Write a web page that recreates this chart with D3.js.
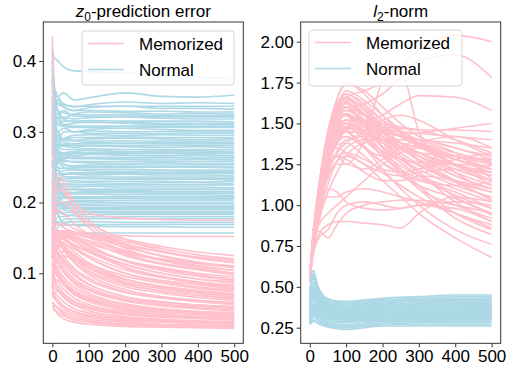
<!DOCTYPE html>
<html><head><meta charset="utf-8">
<script src="https://cdn.jsdelivr.net/npm/d3@7"></script>
<style>
body{margin:0;background:#fff;}
svg{display:block;font-family:"Liberation Sans",Arial,sans-serif;}
</style></head><body>
<svg id="c" width="511" height="370"></svg>
<script>
// ---- data ----
const xTicks = [0,100,200,300,400,500];
const leftYTicks = [0.1,0.2,0.3,0.4];
const rightYTicks = [0.25,0.5,0.75,1.0,1.25,1.5,1.75,2.0];
const legendLabels = ["Memorized","Normal"];

// z0-prediction error: sampled steps
const errX = [0,5,15,30,60,100,200,300,400,500];
const errNormal = [
[0.415,0.405,0.40,0.392,0.386,0.385,0.383,0.380,0.377,0.375],
[0.36,0.35,0.35,0.355,0.345,0.348,0.355,0.350,0.349,0.352],
[0.33,0.36,0.35,0.34,0.335,0.338,0.342,0.340,0.341,0.340],
[0.30,0.34,0.345,0.335,0.33,0.334,0.336,0.333,0.333,0.332],
[0.27,0.33,0.33,0.32,0.325,0.328,0.327,0.325,0.326,0.325],
[0.39,0.34,0.32,0.32,0.318,0.320,0.321,0.319,0.318,0.318],
[0.22,0.30,0.32,0.31,0.312,0.314,0.312,0.310,0.311,0.310],
[0.35,0.31,0.30,0.305,0.30,0.303,0.305,0.303,0.302,0.302],
[0.18,0.26,0.28,0.29,0.295,0.296,0.295,0.296,0.295,0.295],
[0.31,0.30,0.29,0.29,0.288,0.29,0.291,0.29,0.289,0.29],
[0.25,0.28,0.295,0.285,0.283,0.285,0.284,0.285,0.285,0.284],
[0.40,0.32,0.29,0.28,0.278,0.28,0.279,0.278,0.279,0.278],
[0.14,0.22,0.26,0.27,0.272,0.274,0.272,0.273,0.273,0.272],
[0.28,0.27,0.275,0.268,0.266,0.268,0.267,0.266,0.267,0.266],
[0.33,0.29,0.27,0.265,0.262,0.262,0.261,0.26,0.261,0.26],
[0.20,0.25,0.255,0.26,0.257,0.256,0.255,0.256,0.255,0.255],
[0.37,0.30,0.27,0.255,0.25,0.252,0.25,0.25,0.25,0.249],
[0.16,0.22,0.24,0.245,0.246,0.245,0.244,0.245,0.244,0.244],
[0.26,0.25,0.245,0.24,0.24,0.239,0.24,0.239,0.239,0.238],
[0.32,0.27,0.25,0.238,0.235,0.234,0.233,0.233,0.233,0.232],
[0.13,0.19,0.21,0.225,0.228,0.228,0.227,0.228,0.228,0.227],
[0.24,0.23,0.225,0.223,0.222,0.223,0.222,0.222,0.222,0.221],
[0.29,0.25,0.23,0.22,0.218,0.217,0.217,0.216,0.216,0.216],
[0.19,0.21,0.215,0.213,0.212,0.212,0.211,0.211,0.211,0.21],
[0.35,0.27,0.23,0.21,0.207,0.206,0.206,0.205,0.205,0.205],
[0.15,0.18,0.195,0.2,0.201,0.201,0.2,0.2,0.2,0.2],
[0.23,0.21,0.2,0.197,0.196,0.196,0.195,0.195,0.195,0.195],
[0.30,0.24,0.21,0.195,0.191,0.19,0.19,0.19,0.19,0.19],
[0.17,0.18,0.185,0.186,0.186,0.186,0.185,0.185,0.185,0.185],
[0.21,0.2,0.19,0.183,0.181,0.18,0.18,0.18,0.18,0.18],
[0.12,0.15,0.165,0.172,0.173,0.173,0.172,0.172,0.172,0.172],
[0.26,0.21,0.185,0.172,0.168,0.167,0.166,0.166,0.165,0.165],
[0.145,0.15,0.152,0.155,0.157,0.157,0.157,0.157,0.157,0.157],
[0.38,0.30,0.28,0.30,0.30,0.298,0.298,0.297,0.298,0.298],
[0.34,0.33,0.315,0.31,0.306,0.306,0.307,0.306,0.306,0.306],
[0.25,0.27,0.27,0.262,0.27,0.27,0.27,0.27,0.269,0.27],
[0.31,0.28,0.26,0.25,0.247,0.247,0.247,0.246,0.246,0.246],
[0.21,0.23,0.235,0.23,0.231,0.23,0.23,0.23,0.229,0.23],
[0.28,0.24,0.22,0.215,0.214,0.214,0.214,0.213,0.213,0.213],
[0.33,0.25,0.21,0.19,0.188,0.187,0.187,0.187,0.187,0.187],
[0.19,0.175,0.172,0.176,0.177,0.177,0.177,0.177,0.177,0.177],
[0.36,0.33,0.325,0.33,0.322,0.322,0.322,0.321,0.321,0.321],
[0.29,0.31,0.31,0.315,0.315,0.316,0.315,0.315,0.315,0.314],
[0.24,0.26,0.28,0.28,0.281,0.281,0.28,0.281,0.281,0.281],
[0.38,0.32,0.30,0.29,0.292,0.292,0.293,0.292,0.292,0.292],
[0.16,0.20,0.225,0.236,0.236,0.236,0.236,0.236,0.236,0.236],
[0.27,0.24,0.225,0.20,0.203,0.203,0.203,0.203,0.203,0.203],
[0.22,0.20,0.195,0.193,0.193,0.193,0.193,0.193,0.193,0.193],
[0.31,0.28,0.26,0.258,0.258,0.258,0.258,0.258,0.258,0.258],
[0.20,0.24,0.26,0.263,0.263,0.263,0.263,0.263,0.263,0.263],
[0.40,0.36,0.34,0.335,0.33,0.33,0.329,0.329,0.328,0.328],
[0.13,0.17,0.20,0.208,0.208,0.208,0.208,0.208,0.208,0.208],
[0.42,0.37,0.33,0.31,0.30,0.301,0.300,0.300,0.300,0.300],
[0.12,0.16,0.18,0.18,0.183,0.183,0.183,0.183,0.183,0.183],
[0.26,0.22,0.20,0.198,0.198,0.198,0.198,0.198,0.198,0.198],
[0.37,0.33,0.31,0.308,0.308,0.308,0.308,0.308,0.308,0.308],
[0.15,0.20,0.22,0.218,0.219,0.219,0.219,0.219,0.219,0.219],
[0.34,0.30,0.28,0.275,0.275,0.276,0.275,0.275,0.275,0.275],
[0.19,0.22,0.24,0.241,0.241,0.241,0.241,0.241,0.241,0.241],
[0.32,0.29,0.27,0.253,0.252,0.253,0.253,0.253,0.253,0.253],
[0.23,0.25,0.27,0.268,0.269,0.269,0.269,0.269,0.269,0.269],
[0.36,0.34,0.33,0.318,0.314,0.313,0.313,0.312,0.312,0.312],
[0.28,0.30,0.30,0.288,0.287,0.287,0.287,0.287,0.287,0.287],
[0.14,0.18,0.19,0.192,0.192,0.192,0.192,0.192,0.192,0.192],
[0.33,0.26,0.23,0.226,0.225,0.225,0.225,0.225,0.225,0.225],
[0.21,0.23,0.23,0.233,0.234,0.234,0.234,0.234,0.234,0.234],
[0.39,0.35,0.34,0.338,0.336,0.336,0.336,0.336,0.336,0.336],
[0.25,0.26,0.26,0.262,0.264,0.264,0.264,0.264,0.264,0.264],
[0.17,0.19,0.20,0.211,0.214,0.215,0.215,0.215,0.215,0.215],
[0.30,0.27,0.25,0.248,0.249,0.25,0.25,0.25,0.25,0.25],
[0.35,0.30,0.285,0.282,0.283,0.283,0.283,0.283,0.283,0.283],
[0.20,0.18,0.17,0.168,0.169,0.169,0.169,0.169,0.169,0.169],
[0.41,0.36,0.33,0.327,0.324,0.324,0.324,0.323,0.323,0.323],
[0.27,0.23,0.21,0.206,0.206,0.206,0.206,0.206,0.206,0.206],
[0.16,0.20,0.23,0.24,0.242,0.242,0.242,0.242,0.242,0.242],
[0.29,0.28,0.27,0.27,0.27,0.271,0.271,0.271,0.271,0.271]
];
const errMemorized = [
[0.435,0.12,0.10,0.09,0.075,0.065,0.05,0.045,0.042,0.04],
[0.05,0.048,0.042,0.036,0.031,0.028,0.025,0.024,0.023,0.022],
[0.06,0.055,0.05,0.043,0.037,0.033,0.029,0.027,0.026,0.025],
[0.07,0.065,0.058,0.05,0.043,0.038,0.033,0.031,0.029,0.028],
[0.08,0.075,0.068,0.06,0.05,0.044,0.037,0.034,0.032,0.031],
[0.09,0.085,0.078,0.068,0.057,0.05,0.042,0.038,0.036,0.034],
[0.10,0.095,0.088,0.078,0.065,0.056,0.046,0.042,0.039,0.037],
[0.11,0.105,0.097,0.086,0.072,0.062,0.05,0.045,0.042,0.04],
[0.12,0.115,0.107,0.095,0.08,0.069,0.055,0.049,0.046,0.043],
[0.13,0.125,0.117,0.104,0.088,0.076,0.061,0.054,0.05,0.047],
[0.14,0.135,0.127,0.114,0.097,0.084,0.067,0.06,0.055,0.052],
[0.15,0.145,0.138,0.125,0.107,0.093,0.074,0.066,0.061,0.057],
[0.155,0.15,0.145,0.133,0.116,0.101,0.081,0.072,0.066,0.062],
[0.16,0.155,0.15,0.14,0.124,0.109,0.088,0.078,0.072,0.067],
[0.10,0.12,0.13,0.13,0.122,0.113,0.096,0.086,0.079,0.074],
[0.08,0.11,0.135,0.14,0.135,0.125,0.105,0.094,0.086,0.08],
[0.13,0.15,0.155,0.15,0.14,0.13,0.112,0.10,0.092,0.086],
[0.12,0.14,0.15,0.152,0.148,0.138,0.118,0.106,0.098,0.092],
[0.09,0.13,0.15,0.155,0.152,0.145,0.125,0.113,0.105,0.098],
[0.15,0.155,0.157,0.157,0.155,0.15,0.132,0.12,0.111,0.104],
[0.14,0.15,0.155,0.158,0.157,0.152,0.137,0.125,0.116,0.11],
[0.11,0.14,0.155,0.16,0.158,0.155,0.142,0.13,0.121,0.115],
[0.12,0.15,0.16,0.16,0.158,0.155,0.145,0.135,0.126,0.12],
[0.15,0.155,0.16,0.16,0.158,0.156,0.148,0.138,0.13,0.125],
[0.16,0.20,0.24,0.23,0.20,0.175,0.148,0.132,0.122,0.115],
[0.15,0.19,0.22,0.215,0.19,0.17,0.14,0.124,0.114,0.108],
[0.14,0.18,0.20,0.20,0.185,0.165,0.135,0.118,0.108,0.10],
[0.17,0.21,0.23,0.22,0.20,0.185,0.178,0.176,0.175,0.175],
[0.16,0.17,0.17,0.165,0.158,0.155,0.153,0.152,0.152,0.152],
[0.065,0.07,0.075,0.07,0.06,0.052,0.043,0.039,0.037,0.035],
[0.085,0.09,0.09,0.085,0.073,0.063,0.051,0.046,0.043,0.041],
[0.105,0.11,0.11,0.103,0.089,0.077,0.062,0.055,0.051,0.048],
[0.125,0.13,0.128,0.12,0.104,0.09,0.073,0.065,0.06,0.056],
[0.145,0.15,0.148,0.138,0.12,0.104,0.084,0.075,0.069,0.064],
[0.11,0.13,0.14,0.138,0.126,0.112,0.092,0.082,0.076,0.071],
[0.07,0.10,0.12,0.125,0.118,0.108,0.091,0.081,0.075,0.07],
[0.10,0.12,0.14,0.145,0.14,0.132,0.113,0.10,0.092,0.088],
[0.13,0.145,0.15,0.148,0.14,0.13,0.108,0.095,0.087,0.082],
[0.055,0.05,0.045,0.04,0.034,0.031,0.027,0.026,0.025,0.024],
[0.075,0.07,0.062,0.054,0.046,0.041,0.035,0.033,0.031,0.03],
[0.095,0.09,0.082,0.072,0.061,0.053,0.044,0.04,0.038,0.036],
[0.115,0.11,0.102,0.09,0.076,0.066,0.053,0.048,0.045,0.042],
[0.135,0.13,0.122,0.109,0.092,0.08,0.064,0.057,0.053,0.05],
[0.16,0.16,0.158,0.15,0.135,0.122,0.10,0.09,0.084,0.078],
[0.14,0.155,0.16,0.155,0.145,0.135,0.118,0.108,0.10,0.095],
[0.09,0.12,0.14,0.15,0.15,0.146,0.13,0.118,0.11,0.104],
[0.16,0.16,0.16,0.157,0.15,0.142,0.128,0.12,0.114,0.11],
[0.058,0.056,0.052,0.046,0.04,0.035,0.031,0.028,0.027,0.026],
[0.068,0.066,0.061,0.054,0.046,0.04,0.035,0.032,0.030,0.029],
[0.078,0.08,0.075,0.066,0.055,0.047,0.039,0.035,0.033,0.032],
[0.098,0.10,0.095,0.084,0.07,0.06,0.048,0.042,0.039,0.038],
[0.118,0.12,0.115,0.102,0.085,0.072,0.057,0.05,0.046,0.045],
[0.128,0.135,0.13,0.118,0.10,0.085,0.067,0.059,0.055,0.053],
[0.148,0.152,0.148,0.135,0.115,0.098,0.077,0.067,0.062,0.059],
[0.12,0.14,0.145,0.14,0.124,0.108,0.086,0.075,0.069,0.065],
[0.08,0.12,0.14,0.142,0.13,0.115,0.092,0.08,0.073,0.069],
[0.15,0.16,0.158,0.152,0.138,0.123,0.10,0.088,0.081,0.076],
[0.11,0.14,0.155,0.155,0.146,0.133,0.109,0.096,0.088,0.083],
[0.13,0.15,0.16,0.16,0.152,0.14,0.117,0.104,0.096,0.09],
[0.16,0.18,0.19,0.185,0.17,0.155,0.128,0.114,0.106,0.10],
[0.14,0.16,0.17,0.17,0.163,0.155,0.14,0.13,0.123,0.118]
];

// l2-norm
const normMemX = [0,10,25,50,75,100,150,200,250,300,400,500];
const normMemorized = [
[0.55,0.8,1.05,1.35,1.5,1.56,1.5,1.42,1.35,1.3,1.22,1.15],
[0.56,0.82,1.08,1.4,1.56,1.62,1.55,1.45,1.38,1.32,1.25,1.2],
[0.55,0.82,1.1,1.42,1.6,1.66,1.58,1.5,1.42,1.36,1.28,1.22],
[0.57,0.84,1.1,1.43,1.62,1.68,1.62,1.52,1.44,1.38,1.3,1.25],
[0.56,0.83,1.1,1.44,1.65,1.74,1.7,1.6,1.5,1.42,1.35,1.3],
[0.55,0.8,1.03,1.32,1.46,1.5,1.45,1.36,1.28,1.22,1.12,1.05],
[0.54,0.78,1.0,1.3,1.44,1.5,1.45,1.38,1.3,1.24,1.14,1.08],
[0.55,0.77,0.98,1.26,1.4,1.47,1.46,1.4,1.34,1.28,1.18,1.1],
[0.53,0.76,0.97,1.24,1.38,1.45,1.44,1.4,1.35,1.3,1.2,1.12],
[0.55,0.75,0.95,1.2,1.33,1.4,1.42,1.4,1.36,1.32,1.24,1.18],
[0.54,0.73,0.92,1.13,1.27,1.35,1.4,1.4,1.38,1.35,1.28,1.22],
[0.55,0.72,0.9,1.08,1.2,1.3,1.38,1.4,1.4,1.38,1.32,1.26],
[0.56,0.8,1.05,1.38,1.5,1.55,1.5,1.45,1.42,1.4,1.38,1.35],
[0.55,0.81,1.07,1.4,1.54,1.58,1.52,1.47,1.45,1.44,1.42,1.4],
[0.55,0.8,1.05,1.36,1.48,1.52,1.5,1.48,1.47,1.46,1.46,1.45],
[0.54,0.78,1.02,1.32,1.44,1.48,1.46,1.44,1.43,1.44,1.47,1.5],
[0.56,0.83,1.1,1.43,1.58,1.6,1.5,1.38,1.28,1.2,1.05,0.95],
[0.57,0.84,1.11,1.44,1.6,1.63,1.52,1.4,1.3,1.2,1.02,0.9],
[0.55,0.82,1.08,1.41,1.56,1.6,1.5,1.35,1.22,1.12,0.95,0.85],
[0.55,0.8,1.04,1.36,1.5,1.55,1.45,1.32,1.2,1.1,0.92,0.82],
[0.54,0.78,1.0,1.28,1.38,1.42,1.35,1.22,1.1,1.0,0.85,0.76],
[0.55,0.76,0.96,1.18,1.27,1.3,1.25,1.15,1.05,0.95,0.8,0.68],
[0.55,0.8,0.84,0.8,0.88,0.95,1.0,1.02,1.03,1.03,1.0,0.95],
[0.55,0.72,0.82,0.88,0.9,0.9,0.89,0.88,0.86,0.95,1.05,1.02],
[0.55,0.8,1.0,1.1,1.08,1.02,0.98,0.97,0.98,1.0,0.98,0.9],
[0.55,0.76,0.93,1.05,1.05,1.08,1.1,1.08,1.05,1.02,0.95,0.86],
[0.55,0.82,1.05,1.3,1.3,1.25,1.4,1.75,1.82,1.45,1.2,1.1],
[0.56,0.83,1.08,1.42,1.6,1.66,1.7,1.75,1.85,1.95,2.04,2.0],
[0.55,0.82,1.06,1.38,1.55,1.6,1.62,1.68,1.78,1.88,1.92,1.78],
[0.55,0.8,1.04,1.34,1.45,1.48,1.5,1.55,1.62,1.67,1.66,1.58],
[0.58,0.85,1.12,1.45,1.65,1.75,1.68,1.55,1.44,1.36,1.25,1.18],
[0.57,0.85,1.12,1.45,1.62,1.66,1.55,1.42,1.32,1.25,1.15,1.08],
[0.56,0.84,1.1,1.43,1.58,1.6,1.48,1.35,1.26,1.18,1.06,0.98],
[0.55,0.8,1.03,1.28,1.35,1.32,1.25,1.2,1.18,1.2,1.22,1.2],
[0.55,0.78,1.0,1.24,1.3,1.28,1.2,1.15,1.15,1.18,1.15,1.1],
[0.55,0.76,0.96,1.17,1.25,1.25,1.22,1.28,1.35,1.4,1.35,1.28],
[0.55,0.8,1.05,1.36,1.46,1.45,1.35,1.3,1.32,1.38,1.42,1.35],
[0.56,0.83,1.1,1.44,1.56,1.55,1.42,1.3,1.2,1.1,1.0,0.92],
[0.55,0.8,1.03,1.28,1.37,1.38,1.3,1.2,1.12,1.05,0.95,0.88],
[0.57,0.84,1.11,1.45,1.62,1.65,1.55,1.45,1.38,1.32,1.22,1.15],
[0.55,0.76,0.98,1.2,1.32,1.38,1.45,1.52,1.55,1.52,1.4,1.3],
[0.55,0.74,0.88,0.95,1.0,1.05,1.15,1.25,1.32,1.35,1.3,1.25],
[0.55,0.7,0.8,0.85,0.95,1.0,1.02,1.0,0.98,1.0,1.02,1.0],
[0.56,0.82,1.08,1.42,1.6,1.68,1.6,1.48,1.38,1.3,1.18,1.1],
[0.55,0.81,1.06,1.38,1.52,1.55,1.48,1.42,1.38,1.35,1.3,1.28],
[0.55,0.8,1.04,1.36,1.52,1.58,1.52,1.44,1.36,1.28,1.15,1.03],
[0.56,0.82,1.07,1.4,1.57,1.62,1.56,1.48,1.42,1.38,1.3,1.22],
[0.55,0.79,1.02,1.32,1.46,1.52,1.52,1.48,1.42,1.36,1.25,1.15],
[0.55,0.83,1.09,1.42,1.6,1.7,1.64,1.55,1.46,1.38,1.25,1.12],
[0.54,0.77,0.99,1.27,1.42,1.48,1.42,1.32,1.24,1.18,1.1,1.02],
[0.55,0.81,1.05,1.37,1.5,1.52,1.42,1.33,1.28,1.26,1.25,1.24],
[0.56,0.84,1.1,1.44,1.62,1.66,1.58,1.46,1.35,1.27,1.14,1.04],
[0.55,0.8,1.03,1.33,1.45,1.48,1.4,1.3,1.22,1.16,1.08,0.98],
[0.55,0.78,1.0,1.28,1.4,1.46,1.48,1.46,1.42,1.37,1.28,1.2],
[0.55,0.82,1.06,1.38,1.54,1.6,1.55,1.5,1.48,1.46,1.4,1.32],
[0.55,0.8,1.04,1.35,1.48,1.5,1.44,1.38,1.34,1.32,1.3,1.27],
[0.56,0.83,1.09,1.42,1.58,1.64,1.6,1.52,1.45,1.4,1.32,1.16],
[0.55,0.79,1.01,1.3,1.43,1.45,1.36,1.26,1.18,1.12,1.04,0.94],
[0.55,0.77,0.97,1.22,1.3,1.32,1.28,1.22,1.2,1.22,1.28,1.32],
[0.55,0.8,1.02,1.3,1.4,1.42,1.35,1.26,1.2,1.15,1.12,1.14]
];
const normNormX = [0,5,10,20,40,60,100,150,200,300,400,500];
const normNormal = [
[0.45,0.58,0.60,0.52,0.44,0.42,0.41,0.42,0.43,0.44,0.45,0.45],
[0.42,0.55,0.57,0.5,0.43,0.41,0.41,0.41,0.42,0.43,0.44,0.44],
[0.40,0.52,0.55,0.49,0.42,0.40,0.40,0.41,0.42,0.42,0.42,0.43],
[0.38,0.5,0.52,0.47,0.41,0.39,0.39,0.4,0.41,0.41,0.42,0.42],
[0.36,0.48,0.5,0.45,0.4,0.38,0.38,0.39,0.4,0.4,0.41,0.41],
[0.35,0.45,0.48,0.44,0.39,0.37,0.37,0.38,0.39,0.4,0.4,0.4],
[0.34,0.43,0.46,0.42,0.38,0.36,0.36,0.37,0.38,0.39,0.39,0.39],
[0.33,0.42,0.44,0.4,0.37,0.35,0.35,0.36,0.37,0.38,0.38,0.38],
[0.32,0.4,0.42,0.39,0.36,0.35,0.35,0.35,0.36,0.37,0.37,0.37],
[0.31,0.38,0.4,0.38,0.35,0.34,0.34,0.35,0.35,0.36,0.36,0.36],
[0.30,0.37,0.39,0.37,0.34,0.33,0.33,0.34,0.34,0.35,0.35,0.35],
[0.29,0.35,0.37,0.35,0.33,0.32,0.32,0.33,0.33,0.34,0.34,0.34],
[0.29,0.34,0.36,0.34,0.32,0.31,0.31,0.32,0.32,0.33,0.33,0.33],
[0.28,0.33,0.35,0.33,0.31,0.3,0.3,0.31,0.31,0.32,0.32,0.32],
[0.28,0.32,0.34,0.32,0.3,0.29,0.29,0.3,0.3,0.31,0.31,0.31],
[0.28,0.3,0.32,0.3,0.28,0.27,0.27,0.28,0.29,0.3,0.3,0.3],
[0.27,0.29,0.3,0.28,0.26,0.25,0.25,0.26,0.27,0.28,0.28,0.28],
[0.30,0.32,0.33,0.3,0.27,0.26,0.26,0.26,0.27,0.27,0.27,0.27],
[0.33,0.36,0.37,0.33,0.28,0.25,0.24,0.25,0.26,0.26,0.26,0.26],
[0.37,0.42,0.44,0.4,0.34,0.31,0.29,0.29,0.29,0.29,0.29,0.29],
[0.40,0.47,0.5,0.45,0.37,0.33,0.31,0.31,0.31,0.31,0.31,0.31],
[0.43,0.53,0.56,0.5,0.42,0.38,0.36,0.35,0.35,0.35,0.35,0.35],
[0.35,0.4,0.42,0.4,0.38,0.37,0.38,0.39,0.4,0.41,0.41,0.41],
[0.32,0.35,0.36,0.35,0.34,0.35,0.36,0.37,0.38,0.39,0.4,0.4],
[0.30,0.33,0.35,0.34,0.32,0.33,0.34,0.35,0.36,0.37,0.38,0.38],
[0.31,0.36,0.38,0.36,0.33,0.32,0.33,0.34,0.35,0.36,0.36,0.37],
[0.38,0.46,0.48,0.43,0.37,0.35,0.34,0.34,0.34,0.34,0.34,0.34],
[0.36,0.44,0.46,0.41,0.36,0.34,0.33,0.33,0.33,0.33,0.33,0.33],
[0.29,0.31,0.33,0.31,0.29,0.28,0.29,0.3,0.31,0.32,0.32,0.32],
[0.34,0.38,0.4,0.37,0.33,0.31,0.3,0.3,0.3,0.31,0.31,0.31],
[0.41,0.5,0.53,0.48,0.41,0.39,0.38,0.38,0.39,0.39,0.39,0.39],
[0.39,0.48,0.5,0.46,0.4,0.38,0.37,0.37,0.37,0.38,0.38,0.38],
[0.27,0.28,0.29,0.28,0.27,0.26,0.26,0.27,0.28,0.29,0.3,0.3],
[0.44,0.56,0.58,0.51,0.43,0.41,0.40,0.40,0.41,0.42,0.43,0.43],
[0.37,0.47,0.49,0.45,0.39,0.37,0.36,0.37,0.38,0.39,0.4,0.41],
[0.33,0.41,0.43,0.39,0.35,0.34,0.34,0.35,0.36,0.37,0.38,0.39],
[0.31,0.37,0.39,0.36,0.33,0.32,0.32,0.33,0.34,0.35,0.36,0.36],
[0.29,0.33,0.35,0.33,0.31,0.3,0.31,0.32,0.33,0.34,0.35,0.35],
[0.35,0.44,0.47,0.43,0.37,0.35,0.35,0.36,0.36,0.37,0.37,0.37],
[0.40,0.5,0.52,0.47,0.4,0.37,0.36,0.36,0.36,0.36,0.36,0.36],
[0.28,0.31,0.33,0.31,0.29,0.28,0.28,0.29,0.29,0.3,0.3,0.3],
[0.30,0.35,0.37,0.35,0.32,0.31,0.31,0.31,0.32,0.32,0.33,0.33],
[0.42,0.53,0.55,0.49,0.41,0.38,0.37,0.38,0.39,0.4,0.41,0.42],
[0.32,0.38,0.4,0.37,0.34,0.33,0.32,0.32,0.32,0.32,0.32,0.32],
[0.36,0.43,0.45,0.41,0.36,0.34,0.34,0.34,0.35,0.35,0.34,0.34]
];

// ---- drawing ----
const svg = d3.select("#c");
const PINK = "#ffc0cb", BLUE = "#add8e6";
const FS = 17;

function panel(opt){
  const {x0,x1,y0,y1,yDomain,yTicks,yFmt,groups,title,legendBox} = opt;
  const x = d3.scaleLinear().domain([-25,525]).range([x0,x1]);
  const y = d3.scaleLinear().domain(yDomain).range([y1,y0]);
  const g = svg.append("g");
  const cid = "clip"+Math.round(x0);
  svg.append("clipPath").attr("id",cid).append("rect")
    .attr("x",x0).attr("y",y0).attr("width",x1-x0).attr("height",y1-y0);
  const plot = g.append("g").attr("clip-path",`url(#${cid})`);
  groups.forEach(gr=>{
    const line = d3.line().x((d,i)=>x(gr.xs[i])).y(d=>y(d)).curve(d3.curveMonotoneX);
    plot.selectAll(null).data(gr.series).enter().append("path")
      .attr("d",line).attr("fill","none").attr("stroke",gr.color)
      .attr("stroke-width",1.6);
  });
  const xa = g.append("g").attr("transform",`translate(0,${y1})`)
    .call(d3.axisBottom(x).tickValues(xTicks).tickSize(4).tickPadding(3).tickFormat(d3.format("d")));
  const ya = g.append("g").attr("transform",`translate(${x0},0)`)
    .call(d3.axisLeft(y).tickValues(yTicks).tickSize(4).tickPadding(3).tickFormat(d3.format(yFmt)));
  [xa,ya].forEach(a=>{
    a.select(".domain").remove();
    a.selectAll("line").attr("stroke","#333");
    a.selectAll("text").attr("font-size",FS).attr("fill","#000")
      .attr("font-family",'"Liberation Sans",Arial,sans-serif');
  });
  g.append("rect").attr("x",x0).attr("y",y0).attr("width",x1-x0).attr("height",y1-y0)
    .attr("fill","none").attr("stroke","#333").attr("stroke-width",1);
  const t = g.append("text").attr("x",(x0+x1)/2).attr("y",17).attr("text-anchor","middle")
    .attr("font-size",FS);
  t.append("tspan").attr("font-style","italic").text(title[0]);
  t.append("tspan").attr("font-size",12).attr("dy",4).text(title[1]);
  t.append("tspan").attr("dy",-4).text(title[2]);
  const lb = legendBox;
  g.append("rect").attr("x",lb.x).attr("y",lb.y).attr("width",lb.w).attr("height",lb.h)
    .attr("rx",3).attr("fill","#fff").attr("fill-opacity",0.8).attr("stroke","#d6d6d6");
  legendLabels.forEach((lab,i)=>{
    const ly = lb.y + 12.5 + i*26;
    g.append("line").attr("x1",lb.x+6).attr("x2",lb.x+42).attr("y1",ly).attr("y2",ly)
      .attr("stroke",i===0?PINK:BLUE).attr("stroke-width",1.6);
    g.append("text").attr("x",lb.x+57).attr("y",ly+6).attr("font-size",FS).text(lab);
  });
}

panel({x0:43.3,x1:243.3,y0:22,y1:343.3,yDomain:[0.0011,0.4551],yTicks:leftYTicks,yFmt:".1f",
  groups:[{xs:errX,series:errNormal,color:BLUE},{xs:errX,series:errMemorized,color:PINK}],
  title:["z","0","-prediction error"],legendBox:{x:82,y:31,w:152,h:54}});
panel({x0:300.7,x1:500.7,y0:22,y1:343.3,yDomain:[0.1545,2.1206],yTicks:rightYTicks,yFmt:".2f",
  groups:[{xs:normMemX,series:normMemorized,color:PINK},{xs:normNormX,series:normNormal,color:BLUE}],
  title:["l","2","-norm"],legendBox:{x:309,y:30,w:153,h:56}});
</script></body></html>
